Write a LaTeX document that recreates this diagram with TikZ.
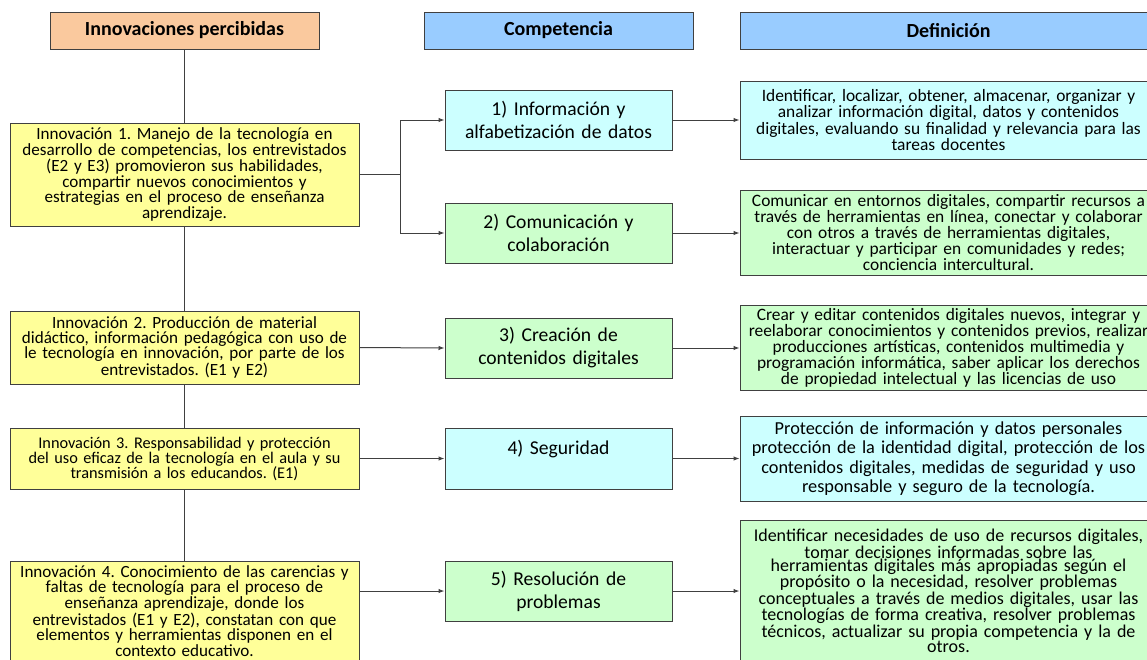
\documentclass[tikz,border=0pt]{standalone}
\usepackage{fontspec}
\setmainfont{Carlito}
\usetikzlibrary{arrows.meta}
\frenchspacing
\lineskiplimit=-30pt

\definecolor{edge}{RGB}{64,64,64}
\definecolor{peach}{RGB}{250,201,158}
\definecolor{headblue}{RGB}{153,204,255}
\definecolor{cyanbox}{RGB}{204,255,255}
\definecolor{greenbox}{RGB}{204,255,204}
\definecolor{yellowbox}{RGB}{255,255,153}

\begin{document}
\begin{tikzpicture}[x=1pt, y=-1pt, >={Latex[length=6pt,width=4.5pt]},
    box/.style={draw=edge, line width=1pt, inner sep=0pt, align=center},
    head/.style={box, minimum height=37pt, font=\bfseries\fontsize{20}{22}\selectfont},
    innov/.style={box, fill=yellowbox, minimum width=349pt, text width=345pt,
      font=\fontsize{17.1}{14.4}\selectfont},
    comp/.style={box, minimum width=227pt, text width=223pt,
      font=\fontsize{19.6}{23}\selectfont},
    defi/.style={box, minimum width=417pt, text width=413pt,
      font=\fontsize{17.4}{13.7}\selectfont},
    link/.style={draw=edge, line width=1pt}]
    \clip (0,0) rectangle (1147,659);

    % column titles
    \node[head, fill=peach, minimum width=269pt] (hinno) at (184.5, 30.5) {Innovaciones percibidas};
    \node[head, fill=headblue, minimum width=269pt] (hcomp) at (558.5, 30.5) {Competencia};
    \node[head, fill=headblue, minimum width=417pt] (hdef) at (948.5, 30.5) {Definición};

    % innovations
    \node[innov, minimum height=103pt] (i1) at (184.5, 174.5) {Innovación 1. Manejo de la tecnología en\\
      desarrollo de competencias, los entrevistados\\ (E2 y E3) promovieron sus habilidades,\\
      compartir nuevos conocimientos y\\ estrategias en el proceso de enseñanza\\ aprendizaje.};
    \node[innov, minimum height=73pt, font=\fontsize{17.1}{14.3}\selectfont] (i2) at (184.5, 347.5) {Innovación 2. Producción de material\\
      didáctico, información pedagógica con uso de\\ le tecnología en innovación, por parte de los\\
      entrevistados. (E1 y E2)};
    \node[innov, minimum height=61pt, font=\fontsize{16.3}{15}\selectfont] (i3) at (184.5, 458.5) {Innovación 3. Responsabilidad y protección\\
      del uso eficaz de la tecnología en el aula y su\\ transmisión a los educandos. (E1)};
    \node[innov, minimum height=100pt] (i4) at (184.5, 611) {Innovación 4. Conocimiento de las carencias y\\
      faltas de tecnología para el proceso de\\ enseñanza aprendizaje, donde los\\
      entrevistados (E1 y E2), constatan con que\\ elementos y herramientas disponen en el\\ contexto educativo.};

    % competences
    \node[comp, fill=cyanbox, minimum height=60pt] (c1) at (558.5, 120) {1) Información y\\ alfabetización de datos};
    \node[comp, fill=greenbox, minimum height=60pt] (c2) at (558.5, 233) {2) Comunicación y\\ colaboración};
    \node[comp, fill=greenbox, minimum height=60pt] (c3) at (558.5, 348) {3) Creación de\\ contenidos digitales};
    \node[comp, fill=cyanbox, minimum height=61pt] (c4) at (558.5, 458.5) {4) Seguridad\\ \mbox{}};
    \node[comp, fill=greenbox, minimum height=60pt] (c5) at (558.5, 591) {5) Resolución de\\ problemas};

    % definitions
    \node[defi, fill=cyanbox, minimum height=78pt] (d1) at (948.5, 120) {Identificar, localizar, obtener, almacenar, organizar y\\
      analizar información digital, datos y contenidos\\ digitales, evaluando su finalidad y relevancia para las\\ tareas docentes};
    \node[defi, fill=greenbox, minimum height=85pt] (d2) at (948.5, 232.5) {Comunicar en entornos digitales, compartir recursos a\\
      través de herramientas en línea, conectar y colaborar\\ con otros a través de herramientas digitales,\\
      interactuar y participar en comunidades y redes;\\ conciencia intercultural.};
    \node[defi, fill=greenbox, minimum height=85pt] (d3) at (948.5, 347.5) {Crear y editar contenidos digitales nuevos, integrar y\\
      reelaborar conocimientos y contenidos previos, realizar\\ producciones artísticas, contenidos multimedia y\\
      programación informática, saber aplicar los derechos\\ de propiedad intelectual y las licencias de uso};
    \node[defi, fill=cyanbox, minimum height=85pt, font=\fontsize{18.3}{19.5}\selectfont] (d4) at (948.5, 458.5) {Protección de información y datos personales\\
      protección de la identidad digital, protección de los\\ contenidos digitales, medidas de seguridad y uso\\
      responsable y seguro de la tecnología.};
    \node[defi, fill=greenbox, minimum height=142pt, font=\fontsize{18}{13.2}\selectfont] (d5) at (948.5, 591) {Identificar necesidades de uso de recursos digitales,\\
      tomar decisiones informadas sobre las\\ herramientas digitales más apropiadas según el\\
      propósito o la necesidad, resolver problemas\\ conceptuales a través de medios digitales, usar las\\
      tecnologías de forma creativa, resolver problemas\\ técnicos, actualizar su propia competencia y la de\\ otros.};

    \coordinate (fork) at (400, 174.5);

    \draw[link] (hinno) -- (i1);
    \draw[link] (i1) -- (i2);
    \draw[link] (i2) -- (i3);
    \draw[link] (i3) -- (i4);

    \draw[link] (i1.east) -- (fork);
    \draw[link, ->] (fork) |- (c1.west);
    \draw[link, ->] (fork) |- (c2.west);
    \draw[link, ->] (i2.east) -- (c3.west);
    \draw[link, ->] (i3.east) -- (c4.west);
    \draw[link, ->] (i4.east |- c5.west) -- (c5.west);

    \draw[link, ->] (c1.east) -- (c1.east -| d1.west);
    \draw[link, ->] (c2.east) -- (c2.east -| d2.west);
    \draw[link, ->] (c3.east) -- (c3.east -| d3.west);
    \draw[link, ->] (c4.east) -- (c4.east -| d4.west);
    \draw[link, ->] (c5.east) -- (c5.east -| d5.west);
  \end{tikzpicture}
\end{document}
